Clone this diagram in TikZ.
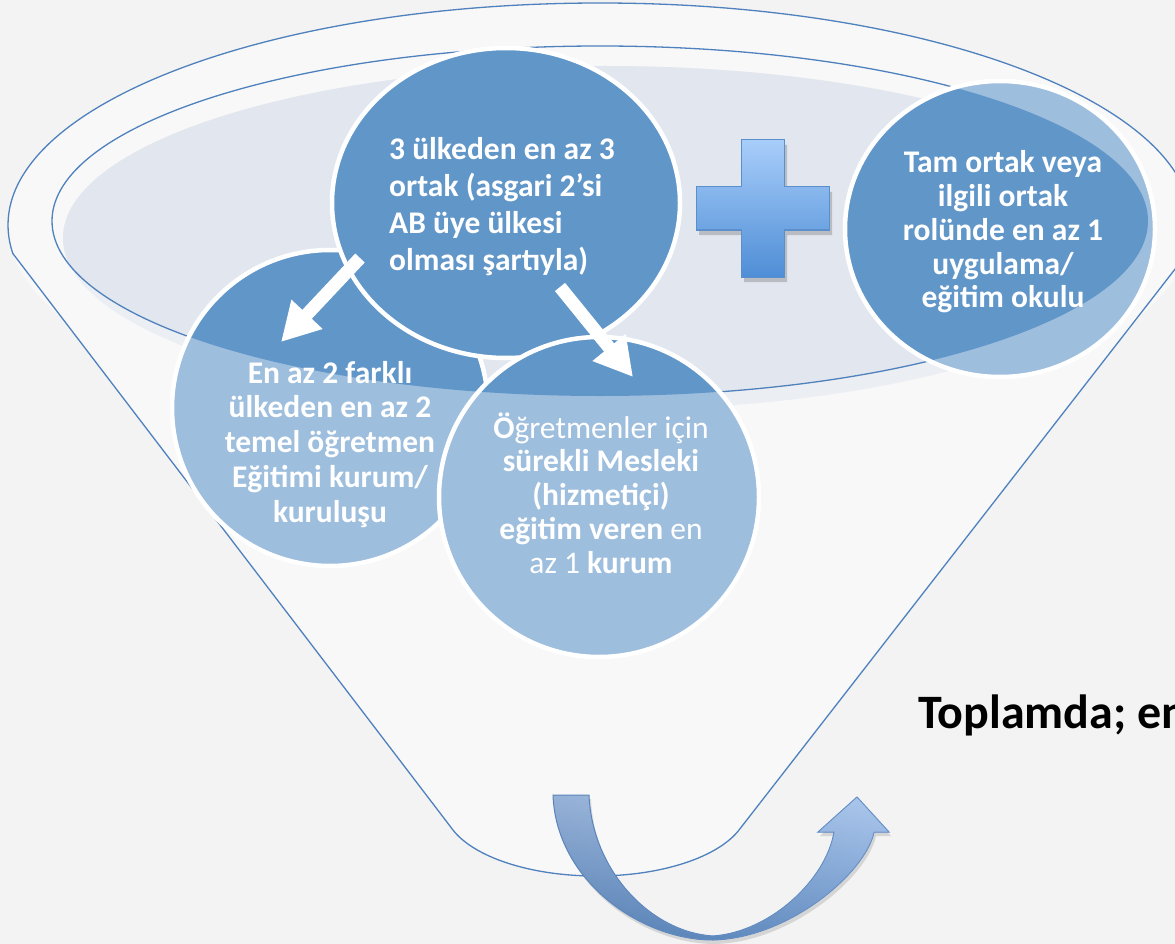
\documentclass[tikz,border=0pt]{standalone}
\usepackage{fontspec}
\setmainfont{Carlito}
\usetikzlibrary{arrows.meta,shapes.geometric}
\definecolor{bgc}{HTML}{F3F3F4}
\definecolor{funfill}{HTML}{F8F8F9}
\definecolor{funline}{HTML}{4F81BD}
\definecolor{cavlight}{HTML}{EBEEF3}
\definecolor{cavdark}{HTML}{E2E7EF}
\definecolor{bubdark}{HTML}{6196C9}
\definecolor{bublight}{HTML}{9EBEDE}
\definecolor{plustop}{HTML}{A8CDFA}
\definecolor{plusbot}{HTML}{4F8ED6}
\definecolor{plusline}{HTML}{5B8FCB}
\definecolor{utop}{HTML}{9CBDEB}
\definecolor{ubot}{HTML}{4A7DBC}
\definecolor{uline}{HTML}{5585C2}
\newcommand\mybubble[4]{%
  \fill[bublight] (#1,#2) ellipse [x radius=#3, y radius=#4];
  \begin{scope}
    \clip (600,221) ellipse [x radius=548, y radius=175];
    \fill[bubdark] (#1,#2) ellipse [x radius=#3, y radius=#4];
  \end{scope}
  \draw[bubedge] (#1,#2) ellipse [x radius=#3, y radius=#4];}
\newcommand\myplusshape{(741,140) -- (784,140) -- (784,187) -- (829,187) -- (829,230) -- (784,230) -- (784,277) -- (741,277) -- (741,230) -- (696,230) -- (696,187) -- (741,187) -- cycle}
\newcommand\myuarrow{(553,795) .. controls (556,880) and (640,940) .. (713,940) .. controls (790,938) and (866,872) .. (874,832) -- (889,832) -- (857,797) -- (818,832) -- (834,832) .. controls (826,880) and (770,932) .. (713,936) .. controls (650,932) and (592,870) .. (589,795) -- cycle}
\begin{document}
\begin{tikzpicture}[x=1pt,y=-1pt,
  funnelline/.style={draw=funline, line width=1.3pt},
  bubedge/.style={draw=white, line width=4.5pt},
  whitearrow/.style={draw=white, line width=13pt, -{Triangle[length=38pt,width=40pt]}},
  bubtext/.style={text=white, inner sep=0pt, anchor=base}]
\useasboundingbox (0,0) rectangle (1175,944);
\fill[bgc] (0,0) rectangle (1175,944);
% funnel body
\fill[funfill] (600,225) ellipse [x radius=592, y radius=222];
\fill[funfill] (13,253.7) -- (1187,253.7) -- (739,830) .. controls (718,857) and (662,876) .. (596,876) .. controls (530,876) and (474,857) .. (453,830) -- cycle;
\begin{scope}
  \clip (0,0) rectangle (1175,253.7);
  \draw[funnelline] (600,225) ellipse [x radius=592, y radius=222];
\end{scope}
\draw[funnelline] (13,253.7) -- (453,830) .. controls (474,857) and (530,876) .. (596,876) .. controls (662,876) and (718,857) .. (739,830) -- (1187,253.7);
% cavity
\fill[cavlight] (605,238) ellipse [x radius=542, y radius=172];
\begin{scope}
  \clip (600,221) ellipse [x radius=548, y radius=175];
  \fill[cavdark] (605,238) ellipse [x radius=542, y radius=172];
\end{scope}
\draw[funnelline] (600,221) ellipse [x radius=548, y radius=175];
% bubbles
\coordinate (cleft) at (330,408);
\coordinate (ctop) at (506,203);
\coordinate (cmid) at (599,497);
\coordinate (cright) at (1000,229);
\mybubble{330}{408}{158}{158}
\mybubble{506}{203}{174}{155}
\mybubble{599}{497}{160}{160}
\mybubble{1000}{229}{155}{148}
% white arrows
\coordinate (a1s) at (360,258);
\coordinate (a1e) at (281,342);
\coordinate (a2s) at (560,287);
\coordinate (a2e) at (633,377);
\draw[whitearrow] (a1s) -- (a1e);
\draw[whitearrow] (a2s) -- (a2e);
% plus
\begin{scope}[shift={(3,5)}]
  \fill[black, opacity=0.18] \myplusshape;
\end{scope}
\shadedraw[top color=plustop, bottom color=plusbot, draw=plusline, line width=1pt] \myplusshape;
% U arrow
\begin{scope}[shift={(2,4)}]
  \fill[black, opacity=0.12] \myuarrow;
\end{scope}
\shadedraw[top color=utop, bottom color=ubot, draw=uline, line width=1pt] \myuarrow;
\shade[left color=gray, right color=white, opacity=0.18] \myuarrow;
% texts
\node[bubtext, anchor=base west, font=\fontsize{31.5}{36.7}\selectfont\bfseries] (ttop) at (389,160)
  {\begin{tabular}[t]{@{}l@{}}3 ülkeden en az 3\\ortak (asgari 2’si\\AB üye ülkesi\\olması şartıyla)\end{tabular}};
\node[bubtext, font=\fontsize{31.5}{34.75}\selectfont\bfseries] (tleft) at (330,383)
  {\begin{tabular}[t]{@{}c@{}}En az 2 farklı\\ülkeden en az 2\\temel öğretmen\\Eğitimi kurum/\\kuruluşu\end{tabular}};
\node[bubtext, font=\fontsize{31.5}{33.75}\selectfont] (tmid) at (601,438)
  {\begin{tabular}[t]{@{}c@{}}\textbf{Ö}ğretmenler için\\\textbf{sürekli Mesleki}\\\textbf{(hizmetiçi)}\\\textbf{eğitim veren} en\\az 1 \textbf{kurum}\end{tabular}};
\node[bubtext, font=\fontsize{31.5}{33.75}\selectfont\bfseries] (tright) at (1003,173)
  {\begin{tabular}[t]{@{}c@{}}Tam ortak veya\\ilgili ortak\\rolünde en az 1\\uygulama/\\eğitim okulu\end{tabular}};
\node[anchor=base west, inner sep=0pt, text=black, font=\fontsize{48}{56}\selectfont\bfseries] (ttotal) at (918,728) {Toplamda; en};
\end{tikzpicture}
\end{document}
